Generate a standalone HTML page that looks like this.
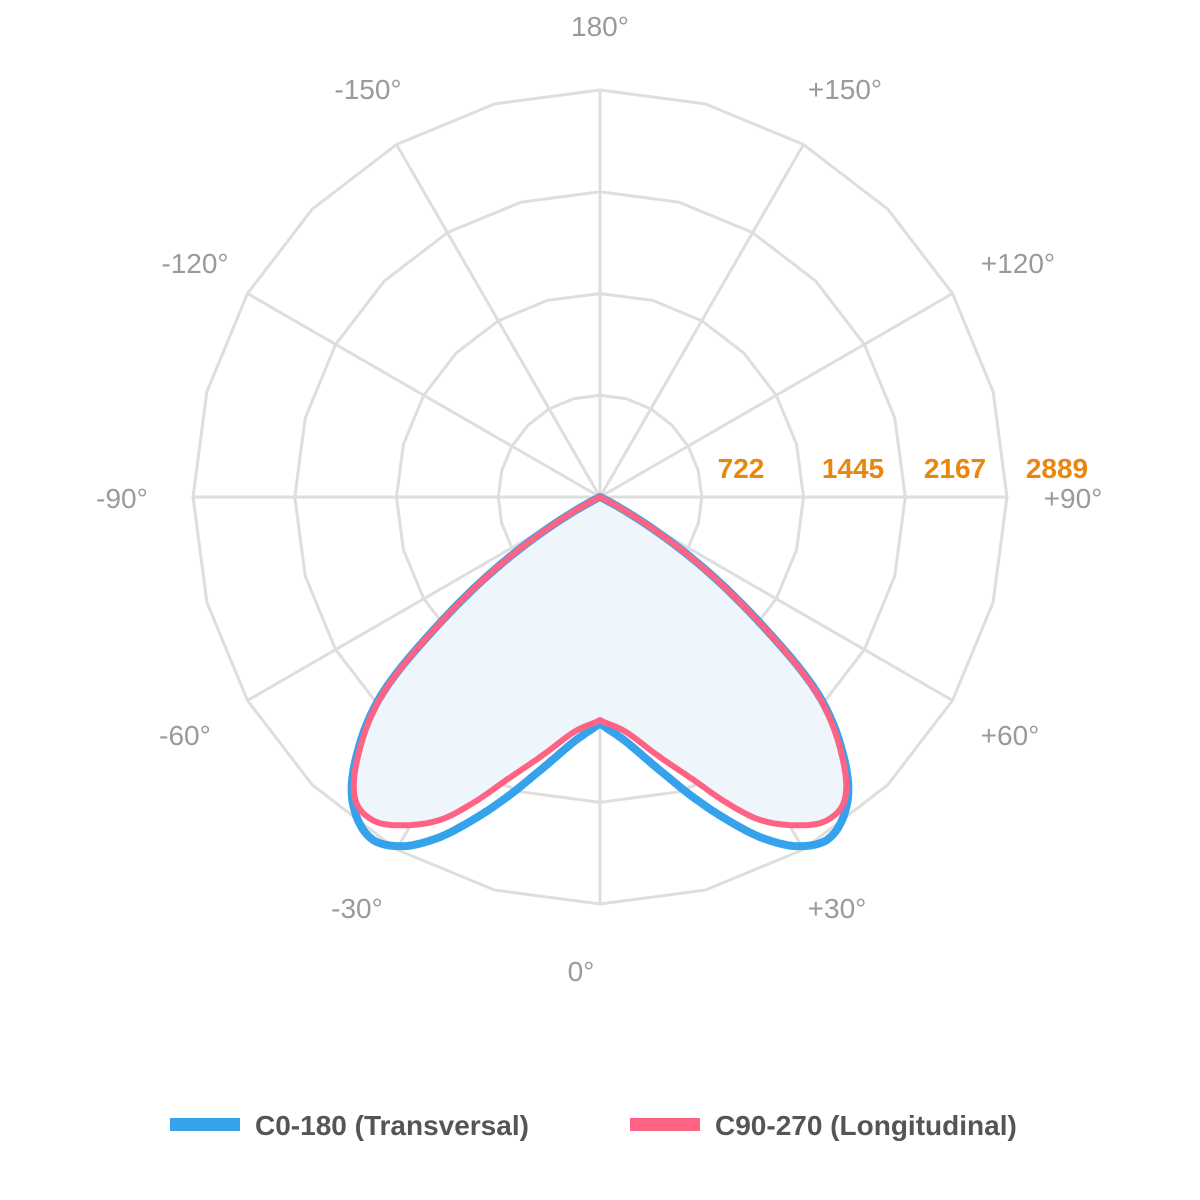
<!DOCTYPE html>
<html><head><meta charset="utf-8"><style>
html,body{margin:0;padding:0;background:#fff;width:1200px;height:1200px;overflow:hidden}
text{font-family:"Liberation Sans",Arial,sans-serif}
</style></head><body>
<svg id="s" width="1200" height="1200" xmlns="http://www.w3.org/2000/svg">
<g id="grid" stroke="#dedede" stroke-width="3" fill="none"></g>
<path id="fillp" fill="#eef5fb" stroke="none"/>
<path id="blue" fill="none" stroke="#36a2eb" stroke-width="8" stroke-linejoin="round"/>
<path id="red" fill="none" stroke="#ff6384" stroke-width="6" stroke-linejoin="round"/>
<g fill="#9a9a9a" font-size="28">
<text x="600" y="36" text-anchor="middle">180°</text>
<text x="845" y="99" text-anchor="middle">+150°</text>
<text x="1018" y="273" text-anchor="middle">+120°</text>
<text x="1073" y="508" text-anchor="middle">+90°</text>
<text x="1010" y="745" text-anchor="middle">+60°</text>
<text x="837" y="918" text-anchor="middle">+30°</text>
<text x="581" y="981" text-anchor="middle">0°</text>
<text x="357" y="918" text-anchor="middle">-30°</text>
<text x="185" y="745" text-anchor="middle">-60°</text>
<text x="122" y="508" text-anchor="middle">-90°</text>
<text x="195" y="273" text-anchor="middle">-120°</text>
<text x="368" y="99" text-anchor="middle">-150°</text>
</g>
<g fill="#e8870e" font-size="28" font-weight="bold" text-anchor="middle">
<text x="741" y="478">722</text>
<text x="853" y="478">1445</text>
<text x="955" y="478">2167</text>
<text x="1057" y="478">2889</text>
</g>
<rect x="170" y="1118" width="70" height="13" fill="#36a2eb"/>
<text x="255" y="1135" font-size="28" font-weight="bold" fill="#555">C0-180 (Transversal)</text>
<rect x="630" y="1118" width="70" height="13" fill="#ff6384"/>
<text x="715" y="1135" font-size="28" font-weight="bold" fill="#555">C90-270 (Longitudinal)</text>
</svg>
<script>
var cx=600,cy=497,R=407;
function pt(a,r){var t=a*Math.PI/180;return [cx+r*Math.sin(t),cy+r*Math.cos(t)];}
var g=document.getElementById('grid'),h='';
[1,2,3,4].forEach(function(k){var r=R*k/4,p=[];for(var a=0;a<360;a+=15){p.push(pt(a,r).map(function(v){return v.toFixed(1)}).join(','));}h+='<polygon points="'+p.join(' ')+'"/>';});
for(var a=0;a<360;a+=30){var q=pt(a,R);h+='<line x1="'+cx+'" y1="'+cy+'" x2="'+q[0].toFixed(1)+'" y2="'+q[1].toFixed(1)+'"/>';}
g.innerHTML=h;
function interp(tab,a){a=Math.abs(a);for(var i=0;i<tab.length-1;i++){if(a>=tab[i][0]&&a<=tab[i+1][0]){var p0=tab[Math.max(i-1,0)],p1=tab[i],p2=tab[i+1],p3=tab[Math.min(i+2,tab.length-1)];var t=(a-p1[0])/(p2[0]-p1[0]);var m1=(p2[1]-p0[1])/((p2[0]-p0[0])||1)*(p2[0]-p1[0]),m2=(p3[1]-p1[1])/((p3[0]-p1[0])||1)*(p2[0]-p1[0]);var t2=t*t,t3=t2*t;return Math.max(0,(2*t3-3*t2+1)*p1[1]+(t3-2*t2+t)*m1+(-2*t3+3*t2)*p2[1]+(t3-t2)*m2);}}return 0;}
var B=[[0,226],[6.3,247],[12.4,280],[17.2,314],[21.5,347],[25.5,378],[29.7,402],[34,411],[39,393],[43,358],[48,292],[52,199],[57,98],[61,30],[65,0],[90,0]];
var Rd=[[0,223],[6.5,237],[13,267],[18.3,298],[22.5,331],[26.3,360],[31,383],[35,395],[39,389],[43,355],[48,290],[52,198],[57,97],[61,30],[65,0],[90,0]];
function path(tab){var s='';for(var a=-90;a<=90;a+=0.5){var p=pt(a,interp(tab,a));s+=(s?'L':'M')+p[0].toFixed(1)+','+p[1].toFixed(1);}return s+'Z';}
document.getElementById('blue').setAttribute('d',path(B));
document.getElementById('red').setAttribute('d',path(Rd));
document.getElementById('fillp').setAttribute('d',path(Rd));
</script>
</body></html>
